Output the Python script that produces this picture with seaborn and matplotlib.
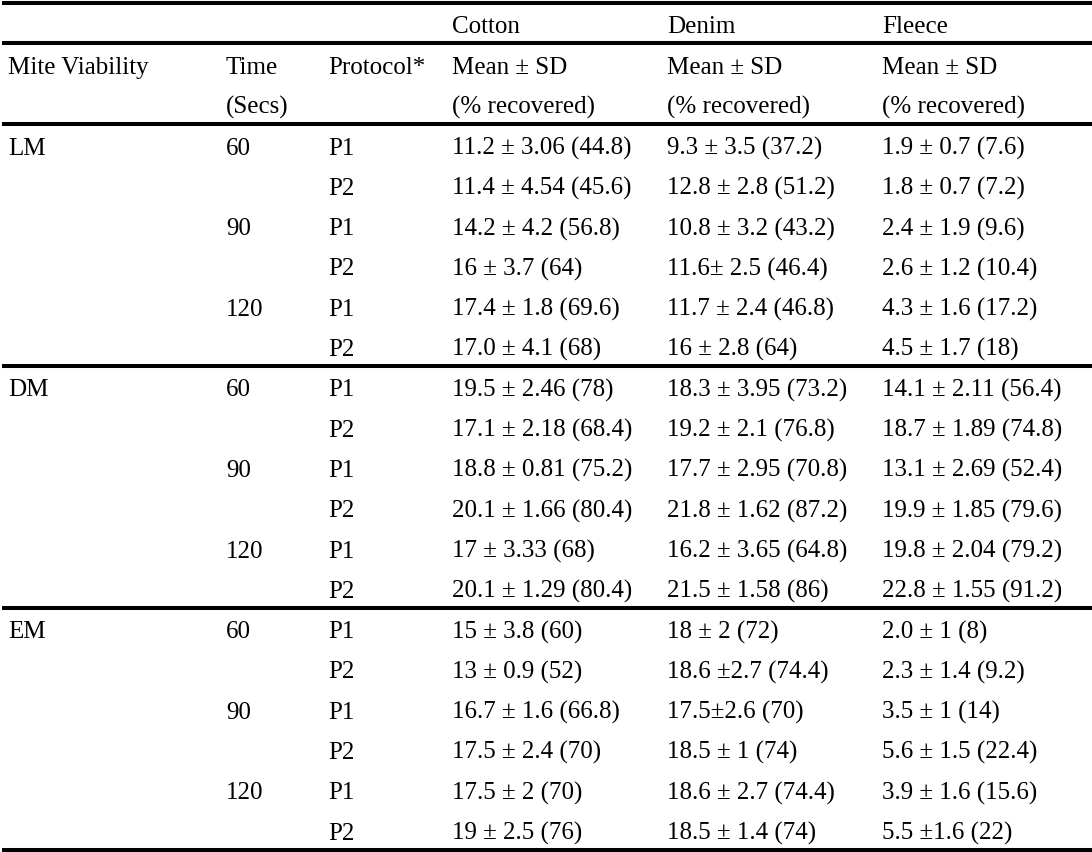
import matplotlib
matplotlib.use("Agg")
import matplotlib.pyplot as plt
import seaborn as sns

sns.set_theme(style="white")
plt.rcParams['font.family'] = ['Liberation Serif', 'DejaVu Serif']

fabrics = ["Cotton", "Denim", "Fleece"]
header_left = ["Mite Viability", "Time", "Protocol*"]
header_sub1 = "Mean ± SD"
header_sub2 = "(% recovered)"
time_unit = "(Secs)"

viability = ["LM", "DM", "EM"]
times = ["60", "90", "120"]
protocols = ["P1", "P2"]

cotton = [
    "11.2 ± 3.06 (44.8)", "11.4 ± 4.54 (45.6)", "14.2 ± 4.2 (56.8)", "16 ± 3.7 (64)",
    "17.4 ± 1.8 (69.6)", "17.0 ± 4.1 (68)",
    "19.5 ± 2.46 (78)", "17.1 ± 2.18 (68.4)", "18.8 ± 0.81 (75.2)", "20.1 ± 1.66 (80.4)",
    "17 ± 3.33 (68)", "20.1 ± 1.29 (80.4)",
    "15 ± 3.8 (60)", "13 ± 0.9 (52)", "16.7 ± 1.6 (66.8)", "17.5 ± 2.4 (70)",
    "17.5 ± 2 (70)", "19 ± 2.5 (76)",
]
denim = [
    "9.3 ± 3.5 (37.2)", "12.8 ± 2.8 (51.2)", "10.8 ± 3.2 (43.2)", "11.6± 2.5 (46.4)",
    "11.7 ± 2.4 (46.8)", "16 ± 2.8 (64)",
    "18.3 ± 3.95 (73.2)", "19.2 ± 2.1 (76.8)", "17.7 ± 2.95 (70.8)", "21.8 ± 1.62 (87.2)",
    "16.2 ± 3.65 (64.8)", "21.5 ± 1.58 (86)",
    "18 ± 2 (72)", "18.6 ±2.7 (74.4)", "17.5±2.6 (70)", "18.5 ± 1 (74)",
    "18.6 ± 2.7 (74.4)", "18.5 ± 1.4 (74)",
]
fleece = [
    "1.9 ± 0.7 (7.6)", "1.8 ± 0.7 (7.2)", "2.4 ± 1.9 (9.6)", "2.6 ± 1.2 (10.4)",
    "4.3 ± 1.6 (17.2)", "4.5 ± 1.7 (18)",
    "14.1 ± 2.11 (56.4)", "18.7 ± 1.89 (74.8)", "13.1 ± 2.69 (52.4)", "19.9 ± 1.85 (79.6)",
    "19.8 ± 2.04 (79.2)", "22.8 ± 1.55 (91.2)",
    "2.0 ± 1 (8)", "2.3 ± 1.4 (9.2)", "3.5 ± 1 (14)", "5.6 ± 1.5 (22.4)",
    "3.9 ± 1.6 (15.6)", "5.5 ±1.6 (22)",
]

W, H = 1092, 853
fig = plt.figure(figsize=(W / 100, H / 100), dpi=100)
ax = fig.add_axes([0, 0, 1, 1])
ax.set_xlim(0, W)
ax.set_ylim(H, 0)
ax.axis("off")

col_x = [8, 226, 328, 452, 667, 882]
fs = 18
kw = dict(fontsize=fs, va="baseline", ha="left", color="black")

# header (baselines)
for j, f in enumerate(fabrics):
    ax.text(col_x[3 + j], 33, f, **kw)
for j, h in enumerate(header_left):
    ax.text(col_x[j], 74, h, **kw)
ax.text(col_x[1], 114, time_unit, **kw)
for j in range(3):
    ax.text(col_x[3 + j], 74, header_sub1, **kw)
    ax.text(col_x[3 + j], 114, header_sub2, **kw)

# data rows
y0, pitch = 154.5, 40.3
cols = [cotton, denim, fleece]
i = 0
for vi, v in enumerate(viability):
    for ti, t in enumerate(times):
        for pi, p in enumerate(protocols):
            y = y0 + i * pitch
            if ti == 0 and pi == 0:
                ax.text(col_x[0], y, v, **kw)
            if pi == 0:
                ax.text(col_x[1], y, t, **kw)
            ax.text(col_x[2], y, p, **kw)
            for j, c in enumerate(cols):
                ax.text(col_x[3 + j], y, c[i], **kw)
            i += 1

lw = 2.9
for yy in [4, 44, 125, 367, 609, 851]:
    ax.hlines(yy, 2, W, colors="black", linewidth=lw, capstyle="butt")

fig.savefig("out.png", dpi=100)
